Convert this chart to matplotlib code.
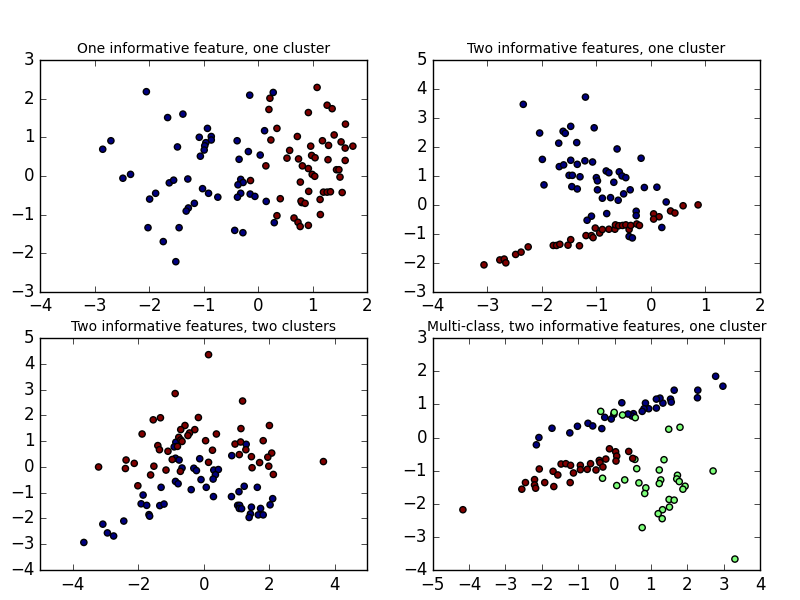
import matplotlib
matplotlib.use("Agg")
import matplotlib.pyplot as plt
import numpy as np

plt.style.use("classic")

titles = ["One informative feature, one cluster",
          "Two informative features, one cluster",
          "Two informative features, two clusters",
          "Multi-class, two informative features, one cluster"]

# ---- subplot 1 ----
p1_c0 = [(-2.05,2.18),(-1.66,1.51),(-1.38,1.60),(-2.70,0.91),(-2.85,0.69),(-1.08,1.00),(-0.93,1.23),(-0.86,1.02),(-0.86,0.93),(-0.96,0.86),(-0.98,0.78),(-0.99,0.67),(-1.06,0.51),(-1.48,0.75),(-2.48,-0.06),(-2.34,0.04),(-1.63,-0.18),(-1.55,-0.11),(-1.29,-0.08),(-1.02,-0.33),(-0.91,-0.45),(-1.88,-0.45),(-1.99,-0.60),(-1.17,-0.71),(-1.28,-0.83),(-1.32,-0.91),(-2.02,-1.34),(-1.45,-1.34),(-1.74,-1.70),(-1.51,-2.22),(-0.74,-0.55),(-0.155,2.09),(0.276,2.16),(0.117,1.17),(-0.386,0.91),(-0.18,0.63),(0.037,0.54),(-0.35,0.43),(-0.32,-0.09),(-0.276,-0.17),(-0.37,-0.23),(-0.32,-0.45),(-0.38,-0.55),(-0.147,-0.47),(-0.06,-0.53),(0.147,-0.66),(0.295,-1.21),(-0.43,-1.41),(-0.28,-1.47),(0.798,-0.69)]
p1_c1 = [(1.08,2.29),(0.215,2.01),(0.197,1.72),(1.264,1.83),(1.356,1.74),(0.92,1.64),(1.60,1.34),(0.344,1.23),(0.233,0.93),(0.718,1.02),(1.393,1.06),(1.178,0.91),(1.29,0.79),(1.52,0.88),(1.595,0.72),(1.736,0.77),(0.963,0.77),(0.577,0.66),(0.528,0.46),(0.74,0.44),(0.98,0.53),(1.043,0.47),(1.28,0.42),(1.595,0.40),(0.141,0.26),(0.81,0.26),(0.92,0.19),(1.436,0.16),(1.48,0.16),(0.99,0.04),(1.037,-0.01),(1.50,-0.03),(-0.141,-0.12),(0.773,-0.16),(0.926,-0.40),(1.196,-0.42),(1.264,-0.42),(1.325,-0.41),(1.54,-0.43),(0.405,-0.59),(1.135,-0.61),(0.785,-0.65),(0.86,-0.71),(1.14,-1.00),(0.344,-1.03),(0.657,-1.09),(0.73,-1.20),(0.77,-1.31),(0.92,-1.28)]

# ---- subplot 2 ----
p2_c0 = [(-2.34,3.47),(-1.20,3.72),(-2.04,2.48),(-1.61,2.54),(-1.57,2.47),(-1.47,2.71),(-1.69,2.13),(-1.36,2.15),(-1.04,2.66),(-1.99,1.57),(-1.68,1.32),(-1.60,1.38),(-1.47,1.54),(-1.35,1.40),(-1.21,1.52),(-1.07,1.48),(-1.96,0.69),(-1.50,1.02),(-1.44,1.02),(-1.30,0.97),(-1.00,0.94),(-0.98,0.83),(-1.45,0.63),(-1.35,0.55),(-0.98,0.52),(-0.89,0.23),(-1.09,-0.39),(-1.17,-0.53),(-0.62,1.93),(-0.18,1.61),(-0.82,1.17),(-0.77,1.11),(-0.58,1.14),(-0.53,1.00),(-0.46,0.94),(-0.68,0.78),(-0.12,0.60),(0.11,0.61),(-0.38,0.52),(-0.50,0.38),(-0.74,0.25),(-0.60,0.16),(0.28,0.10),(-0.27,-0.22),(-0.27,-0.37),(-0.81,-0.30),(0.20,-0.78),(-0.40,-1.09),(-0.34,-1.14)]
p2_c1 = [(-3.06,-2.07),(-2.77,-1.90),(-2.69,-1.87),(-2.66,-2.00),(-2.48,-1.71),(-2.38,-1.63),(-2.25,-1.45),(-1.79,-1.40),(-1.73,-1.40),(-1.67,-1.36),(-1.52,-1.39),(-1.47,-1.20),(-1.31,-1.41),(-1.19,-1.06),(-1.09,-1.06),(-1.06,-1.13),(-1.02,-0.80),(-0.94,-0.97),(-0.89,-0.85),(0.59,-0.03),(0.865,0.00),(0.36,-0.21),(0.44,-0.28),(0.05,-0.31),(0.15,-0.41),(0.05,-0.49),(-0.77,-0.84),(-0.66,-0.84),(-0.65,-0.69),(-0.59,-0.72),(-0.52,-0.71),(-0.46,-0.69),(-0.40,-0.85),(-0.37,-0.71),(-0.26,-0.66),(-0.21,-0.71)]

# ---- subplot 3 ----
p3_c0 = [(-0.85,0.96),(-0.90,0.78),(-0.86,0.34),(-0.75,0.27),(-0.66,-0.04),(-0.12,0.32),(-0.30,-0.05),(-0.22,-0.14),(-0.08,-0.49),(0.08,-0.79),(-0.38,-0.88),(-0.86,-0.56),(-0.78,-0.65),(-1.30,-0.79),(-1.85,-1.09),(-1.91,-1.43),(-1.74,-1.49),(-1.34,-1.50),(-1.21,-1.44),(-1.67,-1.85),(-1.65,-1.91),(-2.44,-2.10),(-3.08,-2.22),(-2.94,-2.56),(-2.75,-2.68),(-3.66,-2.93),(1.30,0.88),(0.86,0.44),(0.31,-0.12),(0.45,-0.10),(0.36,-0.30),(0.29,-0.47),(0.30,-1.15),(0.85,-1.15),(1.08,-0.96),(1.24,-0.75),(1.64,-0.79),(1.04,-1.49),(1.10,-1.49),(1.09,-1.61),(1.16,-1.62),(1.46,-1.56),(1.74,-1.61),(1.43,-1.82),(1.39,-1.96),(1.67,-1.86),(1.82,-1.86),(2.03,-1.47),(2.11,-1.23)]
p3_c1 = [(0.15,4.36),(-0.87,2.85),(-1.54,1.83),(-1.32,1.91),(-0.16,1.92),(-1.88,1.28),(-0.57,1.61),(-0.70,1.45),(-0.27,1.45),(-0.43,1.32),(-0.48,1.22),(-0.76,1.15),(-0.70,1.05),(-0.66,0.99),(0.06,1.02),(-1.40,0.83),(-1.35,0.67),(-1.09,0.61),(-0.80,0.80),(-2.37,0.27),(-2.12,0.14),(-3.21,0.00),(-2.39,-0.06),(-1.52,0.03),(-0.96,0.29),(-1.15,-0.12),(-0.71,-0.17),(0.15,0.18),(-1.62,-0.31),(-2.01,-0.73),(1.19,2.56),(1.14,1.49),(2.01,1.61),(0.39,1.28),(0.27,0.65),(0.96,0.89),(1.13,0.97),(1.29,0.67),(1.09,0.48),(1.82,1.02),(1.46,0.40),(2.08,0.54),(1.96,0.38),(1.71,0.17),(1.48,-0.03),(1.99,0.03),(2.13,-0.29),(3.66,0.21)]

# ---- subplot 4 ----
p4_c0 = [(-2.15,-0.22),(-2.08,0.00),(-1.72,0.28),(-1.23,0.14),(-1.02,0.34),(-0.73,0.43),(-0.60,0.35),(-0.35,0.27),(2.78,1.85),(2.98,1.55),(2.29,1.43),(2.28,1.20),(1.64,1.43),(1.54,1.16),(1.56,1.07),(1.33,1.04),(1.25,1.19),(1.15,1.16),(1.15,0.89),(0.94,0.87),(0.85,1.04),(0.81,0.87),(0.76,0.79),(0.20,1.05),(0.52,0.72),(0.48,0.65),(0.37,0.71),(-0.02,0.70),(-0.09,0.56),(-0.27,0.61)]
p4_c1 = [(-0.38,0.79),(-0.33,-1.23),(-0.01,0.76),(0.22,0.68),(0.57,0.60),(1.49,0.25),(1.80,0.31),(0.56,-0.66),(0.61,-0.94),(1.36,-0.67),(1.23,-0.98),(1.27,-1.28),(1.23,-1.39),(1.73,-1.14),(1.71,-1.25),(1.78,-1.33),(1.94,-1.47),(1.88,-1.56),(2.71,-1.01),(0.06,-1.45),(0.28,-1.28),(0.67,-1.37),(0.86,-1.52),(0.83,-1.69),(1.50,-1.87),(1.64,-1.89),(1.51,-2.10),(1.32,-2.18),(1.20,-2.30),(1.31,-2.45),(0.76,-2.72),(3.31,-3.67)]
p4_c2 = [(-4.17,-2.18),(-2.55,-1.56),(-2.45,-1.36),(-2.20,-1.27),(-2.20,-1.43),(-2.17,-1.53),(-1.92,-1.36),(-1.67,-1.48),(-2.07,-0.95),(-1.69,-1.02),(-1.56,-1.13),(-1.47,-0.80),(-1.34,-0.79),(-1.21,-0.84),(-1.13,-1.07),(-1.22,-1.36),(-0.94,-0.84),(-0.94,-0.97),(-0.75,-0.96),(-0.66,-0.79),(-0.51,-0.98),(-0.42,-0.69),(-0.40,-0.76),(-0.14,-0.34),(0.03,-0.43),(0.06,-0.56),(0.04,-0.71),(0.39,-0.42),(0.50,-0.63),(-0.24,-0.65),(-0.32,-0.89)]

panels = [[p1_c0, p1_c1], [p2_c0, p2_c1], [p3_c0, p3_c1], [p4_c0, p4_c1, p4_c2]]
xlims = [(-4, 2), (-4, 2), (-5, 5), (-5, 4)]
ylims = [(-3, 3), (-3, 5), (-4, 5), (-4, 3)]
xticks = [range(-4, 3), range(-4, 3), [-4, -2, 0, 2, 4], range(-5, 5)]

fig = plt.figure(figsize=(8, 6), dpi=100)
plt.subplots_adjust(bottom=.05, top=.9, left=.05, right=.95)

for i, classes in enumerate(panels):
    ax = fig.add_subplot(2, 2, i + 1)
    xs, ys, cs = [], [], []
    for k, pts in enumerate(classes):
        for (px, py) in pts:
            xs.append(px); ys.append(py); cs.append(k)
    ax.scatter(xs, ys, marker='o', c=cs, cmap='jet', s=20,
               edgecolors='k', linewidths=1)
    ax.set_title(titles[i], fontsize='small')
    ax.set_xlim(*xlims[i])
    ax.set_ylim(*ylims[i])
    ax.set_xticks(list(xticks[i]))
    ax.set_yticks(list(range(ylims[i][0], ylims[i][1] + 1)))

fig.savefig("out.png", dpi=100)
